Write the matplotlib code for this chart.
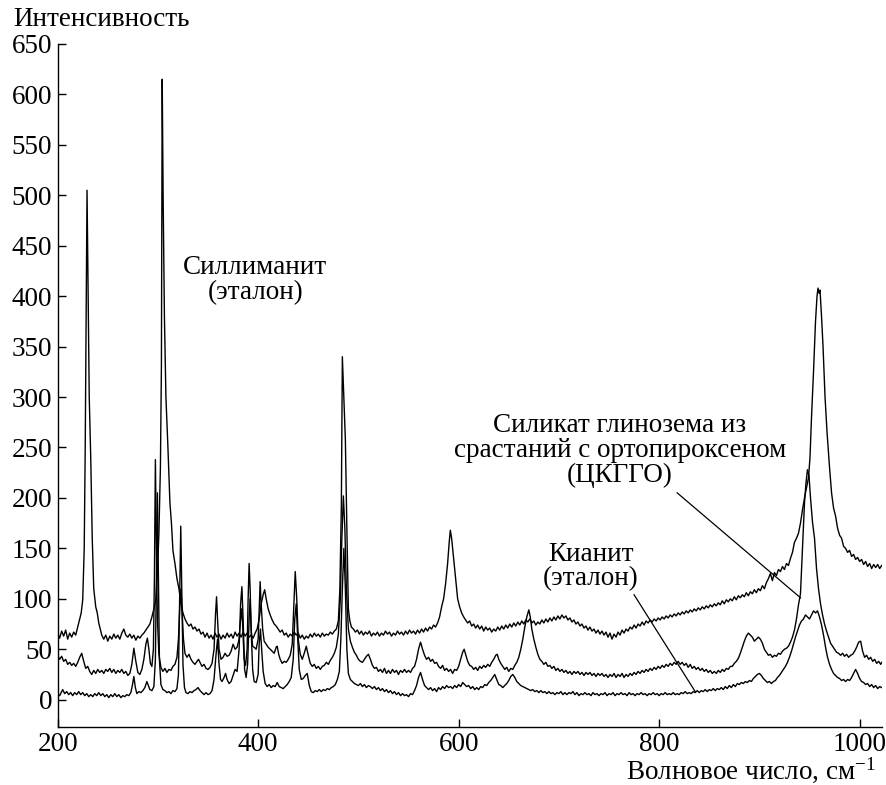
import matplotlib
matplotlib.use("Agg")
import matplotlib.pyplot as plt
import numpy as np

plt.rcParams['font.family'] = ['Liberation Serif', 'DejaVu Serif']
plt.rcParams['mathtext.fontset'] = 'custom'
plt.rcParams['mathtext.rm'] = 'Liberation Serif'
plt.rcParams['mathtext.it'] = 'Liberation Serif'

# spectra: (wavenumber, intensity)
sillimanite = [
    (200, 66), (202, 61), (204, 68), (206, 63), (208, 69), (210, 60), (212, 66), (214, 62), (216, 67), (218, 64),
    (220, 72), (222, 80), (223.5, 86), (225, 99), (226.5, 150), (227.5, 250), (228.5, 400), (229.3, 505),
    (230.2, 420), (231.5, 300), (233, 240), (234.5, 160), (236, 110), (238, 92), (239.5, 86), (241, 76),
    (242.5, 70), (244, 64), (246, 60), (248, 64), (250, 58), (252, 63), (254, 60), (256, 65), (258, 61),
    (260, 64), (262, 60), (264, 66), (266, 70), (268, 64), (270, 62), (272, 65), (274, 61), (276, 64),
    (278, 59), (280, 63), (282, 61), (284, 64), (286, 66), (288, 69), (290, 72), (292, 75), (294, 82),
    (296, 90), (298, 100), (299.5, 125), (301, 165), (302.5, 230), (303.5, 330), (304.3, 615), (305.2, 500),
    (306.5, 380), (308, 300), (310, 250), (312, 195), (313.5, 175), (315, 148), (317, 135), (319, 120),
    (321, 110), (323, 95), (325, 86), (327, 80), (329, 76), (331, 73), (333, 75), (335, 70), (337, 72),
    (339, 68), (341, 70), (343, 65), (345, 67), (347, 62), (349, 66), (351, 61), (353, 64), (355, 60),
    (357, 66), (359, 62), (361, 65), (363, 60), (365, 64), (367, 61), (369, 66), (371, 62), (373, 65),
    (375, 61), (377, 67), (379, 63), (381, 66), (383, 62), (385, 67), (387, 63), (389, 66), (391, 62),
    (393, 64), (395, 61), (397, 66), (399, 70), (401, 80), (403, 95), (405, 104), (406.5, 109), (408, 100),
    (410, 90), (412, 84), (414, 79), (416, 75), (418, 73), (420, 70), (422, 67), (424, 69), (426, 64),
    (428, 66), (430, 62), (432, 65), (434, 63), (436, 67), (438, 64), (440, 66), (442, 61), (444, 64),
    (446, 60), (448, 63), (450, 61), (452, 65), (454, 62), (456, 66), (458, 63), (460, 65), (462, 62),
    (464, 66), (466, 63), (468, 65), (470, 64), (472, 67), (474, 65), (476, 68), (478, 70), (480, 78),
    (481.5, 109), (483, 192), (484, 340), (485.5, 300), (487, 258), (488.7, 158), (490, 90), (491.5, 78),
    (493, 72), (495, 70), (497, 67), (499, 69), (501, 65), (503, 68), (505, 64), (507, 67), (509, 65),
    (511, 68), (513, 63), (515, 66), (517, 64), (519, 67), (521, 63), (523, 66), (525, 64), (527, 68),
    (529, 65), (531, 67), (533, 63), (535, 66), (537, 64), (539, 68), (541, 65), (543, 67), (545, 64),
    (547, 68), (549, 65), (551, 69), (553, 66), (555, 68), (557, 65), (559, 69), (561, 66), (563, 70),
    (565, 67), (567, 71), (569, 68), (571, 72), (573, 70), (575, 74), (577, 72), (579, 76), (581, 82),
    (583, 92), (585, 100), (587, 115), (589, 135), (590.5, 155), (591.7, 168), (593, 160), (594.5, 145),
    (596, 130), (597.5, 115), (599, 100), (601, 92), (603, 86), (605, 82), (607, 79), (609, 76), (611, 78),
    (613, 73), (615, 75), (617, 71), (619, 74), (621, 70), (623, 73), (625, 68), (627, 72), (629, 69),
    (631, 71), (633, 67), (635, 70), (637, 68), (639, 72), (641, 69), (643, 73), (645, 70), (647, 74),
    (649, 71), (651, 75), (653, 72), (655, 76), (657, 73), (659, 77), (661, 74), (663, 78), (665, 75),
    (667, 79), (669, 77), (671, 80), (673, 76), (675, 78), (677, 74), (679, 77), (681, 75), (683, 79),
    (685, 76), (687, 80), (689, 77), (691, 81), (693, 78), (695, 82), (697, 79), (699, 83), (701, 80),
    (703, 84), (705, 81), (707, 83), (709, 79), (711, 81), (713, 77), (715, 79), (717, 75), (719, 77),
    (721, 73), (723, 75), (725, 71), (727, 73), (729, 69), (731, 72), (733, 68), (735, 70), (737, 66),
    (739, 69), (741, 65), (743, 68), (745, 64), (747, 67), (749, 62), (751, 66), (753, 60), (755, 65),
    (757, 62), (759, 67), (761, 64), (763, 69), (765, 66), (767, 70), (769, 68), (771, 72), (773, 70),
    (775, 74), (777, 71), (779, 75), (781, 73), (783, 77), (785, 74), (787, 78), (789, 76), (791, 79),
    (793, 77), (795, 80), (797, 78), (799, 81), (801, 79), (803, 82), (805, 80), (807, 83), (809, 81),
    (811, 84), (813, 82), (815, 85), (817, 83), (819, 86), (821, 84), (823, 87), (825, 85), (827, 88),
    (829, 86), (831, 89), (833, 87), (835, 90), (837, 88), (839, 91), (841, 89), (843, 92), (845, 90),
    (847, 93), (849, 91), (851, 94), (853, 92), (855, 95), (857, 93), (859, 96), (861, 94), (863, 98),
    (865, 95), (867, 99), (869, 97), (871, 100), (873, 98), (875, 102), (877, 99), (879, 103), (881, 101),
    (883, 104), (885, 102), (887, 106), (889, 103), (891, 107), (893, 105), (895, 109), (897, 106),
    (899, 110), (901, 108), (903, 113), (905, 110), (907, 116), (909, 120), (911, 125), (913, 118),
    (915, 126), (917, 123), (919, 129), (921, 127), (923, 132), (925, 129), (927, 135), (929, 133),
    (931, 140), (933, 146), (935, 156), (937, 160), (939, 165), (941, 175), (943, 188), (945, 200),
    (947, 210), (949, 220), (950.5, 240), (952, 280), (954, 325), (956, 375), (957.5, 400), (958.5, 408),
    (959.5, 403), (960.5, 406), (962, 380), (963.5, 350), (965.5, 300), (967.5, 265), (970, 230),
    (972, 205), (974, 190), (976, 182), (978, 170), (980, 163), (982, 160), (984, 152), (986, 150),
    (988, 146), (990, 148), (992, 142), (994, 144), (996, 139), (998, 141), (1000, 137), (1002, 139),
    (1004, 134), (1006, 137), (1008, 132), (1010, 135), (1012, 130), (1014, 134), (1016, 131),
    (1018, 134), (1020, 130), (1022, 133),
]

intergrowth = [
    (200, 44), (202, 40), (204, 43), (206, 38), (208, 40), (210, 35), (212, 37), (214, 34), (216, 36),
    (218, 33), (220, 37), (222, 42), (224, 46), (226, 38), (228, 31), (230, 33), (232, 28), (234, 25),
    (236, 29), (238, 26), (240, 30), (242, 27), (244, 29), (246, 26), (248, 30), (250, 28), (252, 31),
    (254, 27), (256, 30), (258, 26), (260, 29), (262, 27), (264, 30), (266, 26), (268, 28), (270, 24),
    (272, 26), (274, 35), (276, 51), (278, 38), (280, 27), (282, 25), (284, 30), (286, 40), (288, 55),
    (289.5, 61), (291, 50), (292.5, 36), (294, 33), (295.5, 50), (296.5, 120), (297.5, 238), (298.5, 150),
    (299.5, 80), (301, 45), (303, 32), (305, 28), (307, 31), (309, 27), (311, 30), (313, 29), (315, 33),
    (317, 35), (319, 42), (320.5, 60), (322, 95), (323, 110), (324, 90), (325.5, 60), (327, 46), (329, 42),
    (331, 45), (333, 40), (335, 37), (337, 35), (339, 38), (340.5, 40), (342, 37), (344, 33), (346, 35),
    (348, 31), (350, 30), (352, 32), (354, 36), (356, 50), (357.5, 85), (358.5, 102), (359.5, 80),
    (361, 50), (363, 40), (365, 42), (367, 46), (369, 43), (371, 44), (373, 48), (375, 55), (377, 50),
    (379, 52), (381, 60), (382.5, 80), (383.5, 90), (384.5, 75), (386, 40), (387.5, 34), (389, 50),
    (390, 100), (391, 135), (392, 110), (393, 70), (394.5, 53), (396, 52), (398, 50), (400, 60), (401, 90),
    (402, 117), (403, 95), (404.5, 70), (406, 58), (408, 55), (410, 52), (412, 50), (414, 48), (416, 46),
    (418, 52), (419, 53), (420.5, 45), (422, 40), (424, 36), (426, 38), (428, 37), (430, 40), (432, 44),
    (434, 55), (435.5, 90), (437, 127), (438.5, 100), (440, 60), (442, 45), (444, 40), (446, 46), (448, 53),
    (450, 44), (452, 36), (454, 33), (456, 35), (458, 31), (460, 33), (462, 30), (464, 33), (466, 34),
    (468, 37), (470, 35), (472, 39), (474, 42), (476, 46), (478, 52), (480, 65), (482, 100), (483.5, 160),
    (485, 202), (486.5, 170), (488, 110), (490, 70), (492, 58), (494, 52), (496, 47), (498, 44), (500, 40),
    (502, 38), (504, 37), (506, 40), (508, 43), (510, 45), (512, 40), (514, 34), (516, 31), (518, 32),
    (520, 28), (522, 30), (524, 27), (526, 31), (528, 26), (530, 29), (532, 26), (534, 30), (536, 27),
    (538, 29), (540, 25), (542, 29), (544, 27), (546, 30), (548, 27), (550, 29), (552, 27), (554, 31),
    (556, 33), (558, 40), (560, 50), (562, 57), (564, 50), (566, 44), (568, 40), (570, 42), (572, 38),
    (574, 40), (576, 36), (578, 37), (580, 33), (582, 31), (584, 34), (586, 29), (588, 31), (590, 28),
    (592, 30), (594, 26), (596, 30), (598, 29), (600, 33), (602, 40), (604, 47), (605.5, 50), (607, 45),
    (609, 38), (611, 34), (613, 33), (615, 30), (617, 32), (619, 29), (621, 33), (623, 31), (625, 34),
    (627, 32), (629, 35), (631, 33), (633, 37), (635, 40), (637, 44), (638.5, 45), (640, 40), (642, 36),
    (644, 33), (646, 30), (648, 32), (650, 28), (652, 31), (654, 30), (656, 34), (658, 37), (660, 42),
    (662, 50), (664, 60), (666, 72), (668, 82), (670, 89), (671.5, 82), (673, 70), (675, 60), (677, 52),
    (679, 45), (681, 40), (683, 38), (685, 35), (687, 37), (689, 33), (691, 34), (693, 31), (695, 33),
    (697, 29), (699, 31), (701, 28), (703, 30), (705, 27), (707, 29), (709, 26), (711, 28), (713, 25),
    (715, 28), (717, 26), (719, 28), (721, 25), (723, 27), (725, 24), (727, 27), (729, 25), (731, 27),
    (733, 24), (735, 26), (737, 23), (739, 26), (741, 24), (743, 26), (745, 23), (747, 25), (749, 22),
    (751, 25), (753, 23), (755, 26), (757, 22), (759, 25), (761, 23), (763, 26), (765, 22), (767, 25),
    (769, 23), (771, 26), (773, 24), (775, 27), (777, 25), (779, 28), (781, 26), (783, 29), (785, 27),
    (787, 30), (789, 28), (791, 31), (793, 29), (795, 32), (797, 30), (799, 33), (801, 31), (803, 34),
    (805, 32), (807, 35), (809, 33), (811, 36), (813, 34), (815, 37), (817, 35), (819, 38), (821, 35),
    (823, 37), (825, 34), (827, 36), (829, 32), (831, 35), (833, 31), (835, 33), (837, 30), (839, 32),
    (841, 29), (843, 31), (845, 28), (847, 30), (849, 27), (851, 29), (853, 26), (855, 28), (857, 26),
    (859, 29), (861, 27), (863, 30), (865, 28), (867, 31), (869, 30), (871, 33), (873, 33), (875, 36),
    (877, 38), (879, 41), (881, 46), (883, 52), (885, 58), (887, 63), (889, 66), (891, 64), (893, 62),
    (895, 58), (897, 60), (899, 62), (901, 60), (903, 56), (905, 50), (907, 47), (909, 44), (911, 45),
    (913, 42), (915, 44), (917, 43), (919, 46), (921, 45), (923, 48), (925, 50), (927, 51), (929, 53),
    (931, 57), (933, 62), (935, 69), (937, 80), (939, 94), (941, 105), (943, 150), (945, 195),
    (946.5, 215), (948, 228), (949.5, 222), (951, 200), (953, 176), (955, 160), (957, 130), (959, 110),
    (961, 95), (963, 84), (965, 75), (967, 68), (969, 62), (971, 56), (973, 53), (975, 50), (977, 47),
    (979, 46), (981, 44), (983, 46), (985, 43), (987, 45), (989, 42), (991, 44), (993, 45), (995, 48),
    (997, 52), (999, 57), (1001, 58), (1003, 48), (1005, 42), (1007, 44), (1009, 40), (1011, 42),
    (1013, 38), (1015, 40), (1017, 36), (1019, 38), (1021, 35), (1022, 37),
]

kyanite = [
    (200, 6), (202, 4), (204, 8), (205, 10), (207, 6), (209, 8), (211, 5), (213, 7), (215, 4), (217, 7),
    (219, 5), (221, 8), (223, 5), (225, 7), (227, 4), (229, 6), (231, 3), (233, 5), (235, 3), (237, 6),
    (239, 4), (241, 7), (243, 4), (245, 6), (247, 3), (249, 5), (251, 2), (253, 5), (255, 3), (257, 6),
    (259, 3), (261, 5), (263, 2), (265, 4), (267, 3), (269, 5), (271, 4), (273, 7), (274.5, 14), (276, 23),
    (277.5, 12), (279, 6), (281, 8), (283, 7), (285, 9), (287, 12), (289, 18), (290.5, 14), (292, 10),
    (294, 9), (296, 13), (297.5, 40), (298.5, 120), (299.5, 205), (300.5, 120), (301.5, 40), (303, 15),
    (305, 10), (307, 9), (309, 7), (311, 8), (313, 6), (315, 9), (317, 8), (319, 11), (320.5, 25),
    (321.5, 90), (322.8, 172), (324, 100), (325, 35), (326.5, 12), (328, 7), (330, 6), (332, 8), (334, 7),
    (336, 9), (338, 10), (340, 12), (342, 9), (344, 7), (346, 5), (348, 7), (350, 5), (352, 6), (354, 9),
    (356, 20), (358, 45), (359.5, 60), (361, 35), (362.5, 20), (364, 18), (366, 22), (367.5, 26), (369, 20),
    (371, 16), (373, 18), (375, 24), (377, 30), (379, 28), (381, 50), (382.5, 95), (383.8, 112), (385, 80),
    (386.5, 30), (388, 22), (389.5, 35), (391, 80), (392, 100), (393, 70), (394.5, 30), (396, 18),
    (398, 17), (400, 25), (401, 55), (402.3, 70), (403.5, 50), (405, 28), (407, 16), (409, 13), (411, 15),
    (413, 12), (415, 14), (417, 13), (419, 17), (421, 13), (423, 12), (425, 11), (427, 13), (429, 15),
    (431, 18), (433, 22), (435, 40), (436.5, 80), (438, 95), (439.5, 60), (441, 30), (443, 20), (445, 21),
    (447, 24), (449, 26), (451, 14), (453, 8), (455, 7), (457, 9), (459, 8), (461, 10), (463, 8), (465, 10),
    (467, 9), (469, 11), (471, 10), (473, 12), (475, 13), (477, 15), (479, 20), (481, 28), (482.5, 60),
    (484, 110), (485.5, 150), (487, 110), (488.5, 50), (490, 26), (492, 20), (494, 18), (496, 16),
    (498, 15), (500, 14), (502, 16), (504, 13), (506, 15), (508, 12), (510, 14), (512, 13), (514, 11),
    (516, 13), (518, 10), (520, 12), (522, 9), (524, 11), (526, 8), (528, 10), (530, 7), (532, 9), (534, 6),
    (536, 8), (538, 5), (540, 7), (542, 4), (544, 6), (546, 4), (548, 5), (550, 3), (552, 6), (554, 5),
    (556, 9), (558, 14), (560, 22), (562, 27), (564, 20), (566, 14), (568, 12), (570, 10), (572, 12),
    (574, 9), (576, 11), (578, 8), (580, 12), (582, 10), (584, 13), (586, 11), (588, 14), (590, 12),
    (592, 13), (594, 11), (596, 14), (598, 12), (600, 15), (602, 13), (604, 17), (606, 15), (608, 13),
    (610, 14), (612, 11), (614, 13), (616, 10), (618, 12), (620, 10), (622, 13), (624, 12), (626, 15),
    (628, 14), (630, 17), (632, 19), (634, 22), (636, 25), (638, 20), (640, 15), (642, 14), (644, 12),
    (646, 14), (648, 16), (650, 19), (652, 23), (654, 25), (656, 22), (658, 18), (660, 16), (662, 14),
    (664, 13), (666, 12), (668, 11), (670, 10), (672, 9), (674, 10), (676, 8), (678, 9), (680, 7), (682, 9),
    (684, 7), (686, 8), (688, 6), (690, 8), (692, 6), (694, 7), (696, 5), (698, 7), (700, 6), (702, 8),
    (704, 5), (706, 7), (708, 5), (710, 7), (712, 6), (714, 8), (716, 5), (718, 7), (720, 4), (722, 6),
    (724, 5), (726, 7), (728, 5), (730, 6), (732, 4), (734, 7), (736, 5), (738, 6), (740, 4), (742, 6),
    (744, 5), (746, 7), (748, 4), (750, 6), (752, 5), (754, 7), (756, 4), (758, 6), (760, 5), (762, 7),
    (764, 5), (766, 6), (768, 4), (770, 7), (772, 5), (774, 6), (776, 4), (778, 6), (780, 5), (782, 7),
    (784, 5), (786, 6), (788, 4), (790, 6), (792, 5), (794, 7), (796, 5), (798, 6), (800, 4), (802, 6),
    (804, 5), (806, 7), (808, 5), (810, 6), (812, 5), (814, 7), (816, 5), (818, 6), (820, 5), (822, 7),
    (824, 6), (826, 8), (828, 6), (830, 7), (832, 6), (834, 8), (836, 7), (838, 9), (840, 7), (842, 9),
    (844, 8), (846, 10), (848, 8), (850, 10), (852, 9), (854, 11), (856, 9), (858, 11), (860, 10),
    (862, 12), (864, 10), (866, 13), (868, 11), (870, 14), (872, 12), (874, 15), (876, 13), (878, 16),
    (880, 15), (882, 17), (884, 16), (886, 18), (888, 17), (890, 19), (892, 18), (894, 21), (896, 23),
    (898, 25), (900, 26), (902, 24), (904, 21), (906, 19), (908, 17), (910, 18), (912, 16), (914, 18),
    (916, 19), (918, 22), (920, 24), (922, 27), (924, 30), (926, 33), (928, 37), (930, 42), (932, 48),
    (934, 55), (936, 62), (938, 68), (940, 74), (942, 78), (944, 80), (946, 84), (948, 82), (950, 80),
    (952, 84), (954, 88), (956, 86), (958, 88), (960, 82), (962, 74), (964, 64), (966, 52), (968, 42),
    (970, 35), (972, 30), (974, 26), (976, 24), (978, 22), (980, 21), (982, 19), (984, 20), (986, 18),
    (988, 20), (990, 19), (992, 22), (994, 26), (996, 30), (998, 26), (1000, 21), (1002, 18), (1004, 17),
    (1006, 15), (1008, 16), (1010, 13), (1012, 15), (1014, 12), (1016, 14), (1018, 11), (1020, 13),
    (1022, 12),
]

x_ticks = [200, 400, 600, 800, 1000]
y_ticks = list(range(0, 651, 50))

FS = 19.5

fig = plt.figure(figsize=(8.87, 7.85), dpi=100)
ax = fig.add_axes([0.065, 0.074, 0.929, 0.870])

for series in (sillimanite, intergrowth, kyanite):
    xs, ys = zip(*series)
    ax.plot(xs, ys, color='black', lw=1.0)

ax.set_xlim(200, 1022)
ax.set_ylim(-27, 650)
ax.set_xticks(x_ticks)
ax.set_yticks(y_ticks)
ax.spines['top'].set_visible(False)
ax.spines['right'].set_visible(False)
for s in ('left', 'bottom'):
    ax.spines[s].set_linewidth(1.0)
ax.tick_params(direction='in', length=6, width=1.0, labelsize=FS, pad=4)

fig.text(13 / 887, 1 - 20 / 785, 'Интенсивность', fontsize=FS, ha='left', va='center')
fig.text(876 / 887, 1 - 779 / 785, 'Волновое число, см$^{-1}$', fontsize=FS,
         ha='right', va='baseline')

# labels and leader lines
ax.text(397, 416, 'Силлиманит\n(эталон)', fontsize=FS, ha='center', va='center',
        linespacing=1.0)
ax.text(761, 247, 'Силикат глинозема из\nсрастаний с ортопироксеном\n(ЦКГГО)',
        fontsize=FS, ha='center', va='center', linespacing=1.0)
ax.text(732, 132, 'Кианит\n(эталон)', fontsize=FS, ha='center', va='center',
        linespacing=1.0)
ax.plot([818, 941], [205, 101], color='black', lw=0.9)
ax.plot([775, 836], [104, 8], color='black', lw=0.9)

fig.savefig('out.png', dpi=100)
